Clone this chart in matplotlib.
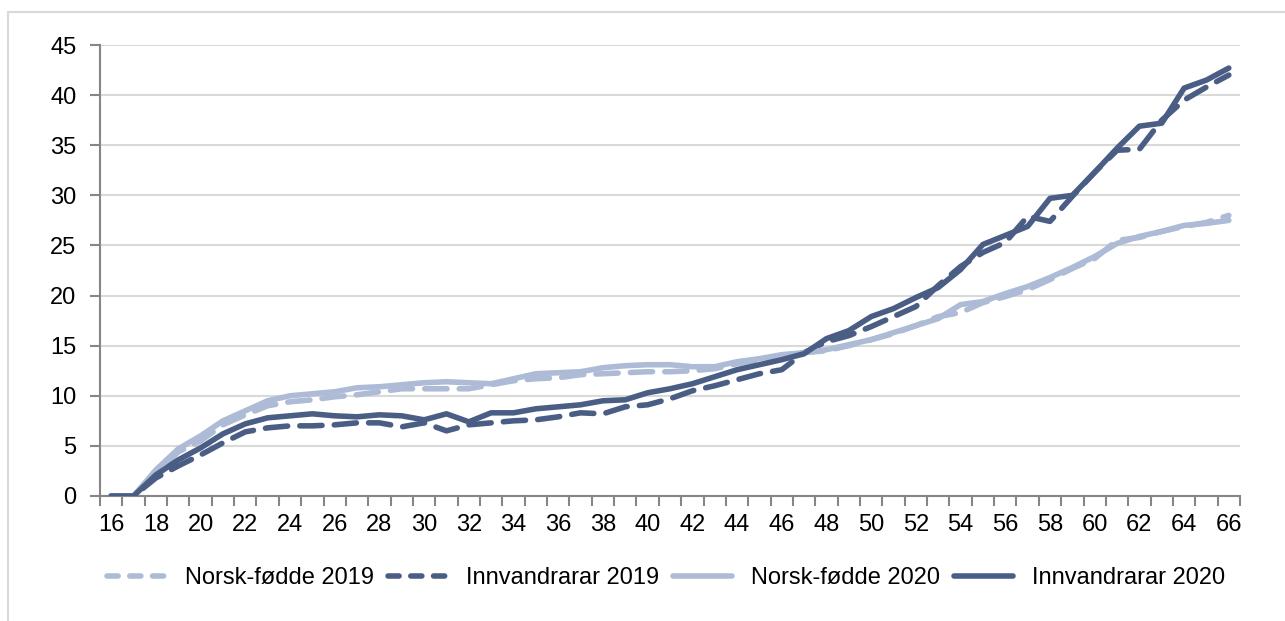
import matplotlib

matplotlib.use("Agg")

import matplotlib.pyplot as plt
import numpy as np
from matplotlib.lines import Line2D
from matplotlib.patches import Rectangle

# Aldersgrupper (x-aksen)
ages = list(range(16, 67))

# Andel per alder, lest av figuren
norsk_2019 = [
    0, 0, 2.3, 4.4, 5.5, 7.1, 8.1, 9.0, 9.4, 9.6,
    9.9, 10.1, 10.4, 10.7, 10.7, 10.7, 10.7, 11.1, 11.5, 11.7,
    11.8, 12.1, 12.2, 12.3, 12.4, 12.4, 12.5, 12.7, 13.2, 13.6,
    14.0, 14.3, 14.5, 15.0, 15.6, 16.2, 17.0, 17.9, 18.3, 19.3,
    19.9, 20.6, 21.6, 22.7, 23.7, 25.5, 25.8, 26.4, 26.9, 27.3,
    28.0,
]
innv_2019 = [
    0, 0, 1.8, 3.0, 4.1, 5.3, 6.4, 6.8, 7.0, 7.0,
    7.1, 7.3, 7.3, 6.9, 7.3, 6.5, 7.1, 7.3, 7.5, 7.6,
    7.9, 8.3, 8.2, 8.9, 9.1, 9.7, 10.5, 11.0, 11.6, 12.2,
    12.6, 14.3, 15.4, 16.0, 16.9, 17.9, 18.9, 21.0, 22.9, 24.3,
    25.3, 27.9, 27.4, 29.9, 32.3, 34.5, 34.6, 37.5, 39.5, 40.8,
    42.0,
]
norsk_2020 = [
    0, 0, 2.6, 4.7, 6.0, 7.5, 8.5, 9.5, 10.0, 10.2,
    10.4, 10.8, 10.9, 11.1, 11.3, 11.4, 11.3, 11.2, 11.7, 12.2,
    12.3, 12.4, 12.8, 13.0, 13.1, 13.1, 12.9, 12.9, 13.4, 13.7,
    14.1, 14.3, 14.6, 15.1, 15.6, 16.3, 17.0, 17.7, 19.1, 19.4,
    20.2, 20.9, 21.8, 22.8, 23.9, 25.2, 25.9, 26.4, 27.0, 27.2,
    27.5,
]
innv_2020 = [
    0, 0, 2.1, 3.6, 4.8, 6.2, 7.2, 7.8, 8.0, 8.2,
    8.0, 7.9, 8.1, 8.0, 7.6, 8.2, 7.4, 8.3, 8.3, 8.7,
    8.9, 9.1, 9.5, 9.6, 10.3, 10.7, 11.2, 11.9, 12.6, 13.1,
    13.6, 14.2, 15.7, 16.5, 17.9, 18.7, 19.8, 20.8, 22.6, 25.1,
    26.0, 26.9, 29.7, 30.0, 32.3, 34.7, 36.9, 37.2, 40.7, 41.5,
    42.7,
]

LIGHT = "#adbbd6"
DARK = "#4a5e85"
AXIS = "#868686"
GRID = "#d9d9d9"

plt.rcParams["font.family"] = ["Liberation Sans", "DejaVu Sans"]
plt.rcParams["font.size"] = 17

fig = plt.figure(figsize=(12.85, 6.21), dpi=100)
ax = fig.add_axes([100 / 1285, 1 - 496 / 621, 1140 / 1285, 451 / 621])

# ramme rundt hele diagrammet
fig.patches.append(
    Rectangle((8 / 1285, -0.2), 1.2, 1.2 - 12 / 621, transform=fig.transFigure,
              fill=False, edgecolor=GRID, linewidth=1.5)
)

lw = 4.0
line_dash = (4.0, 2.2)
legend_dash = (2.0, 2.1)
series = [
    (norsk_2019, "Norsk-fødde 2019", LIGHT, True),
    (innv_2019, "Innvandrarar 2019", DARK, True),
    (norsk_2020, "Norsk-fødde 2020", LIGHT, False),
    (innv_2020, "Innvandrarar 2020", DARK, False),
]
style = dict(linewidth=lw, solid_capstyle="round", solid_joinstyle="round",
             dash_capstyle="round", dash_joinstyle="round")
legend_handles = []
for values, label, color, dashed in series:
    line, = ax.plot(ages, values, color=color, label=label, zorder=3, **style)
    handle = Line2D([], [], color=color, **style)
    if dashed:
        line.set_dashes(line_dash)
        handle.set_dashes(legend_dash)
    legend_handles.append(handle)

ax.set_xlim(15.5, 66.5)
ax.set_ylim(0, 45)
ax.set_yticks(np.arange(0, 46, 5))
ax.set_xticks(range(16, 67, 2))
ax.set_xticks(np.arange(15.5, 67, 1), minor=True)
ax.tick_params(axis="x", which="major", length=0, pad=13, colors="black")
ax.tick_params(axis="x", which="minor", length=7, width=1.5, color=AXIS)
ax.tick_params(axis="y", length=7, width=1.5, color=AXIS, pad=10)

ax.grid(axis="y", color=GRID, linewidth=1.5, zorder=0)
ax.set_axisbelow(True)
for side in ["top", "right"]:
    ax.spines[side].set_visible(False)
for side in ["left", "bottom"]:
    ax.spines[side].set_color(AXIS)
    ax.spines[side].set_linewidth(1.5)

labels = [s[1] for s in series]
fig.legend(legend_handles, labels, loc="center", bbox_to_anchor=(666 / 1285, 1 - 578 / 621),
           ncol=4, frameon=False, handlelength=2.5, handletextpad=0.8,
           columnspacing=0.6, borderaxespad=0)

fig.savefig("out.png", dpi=100)
